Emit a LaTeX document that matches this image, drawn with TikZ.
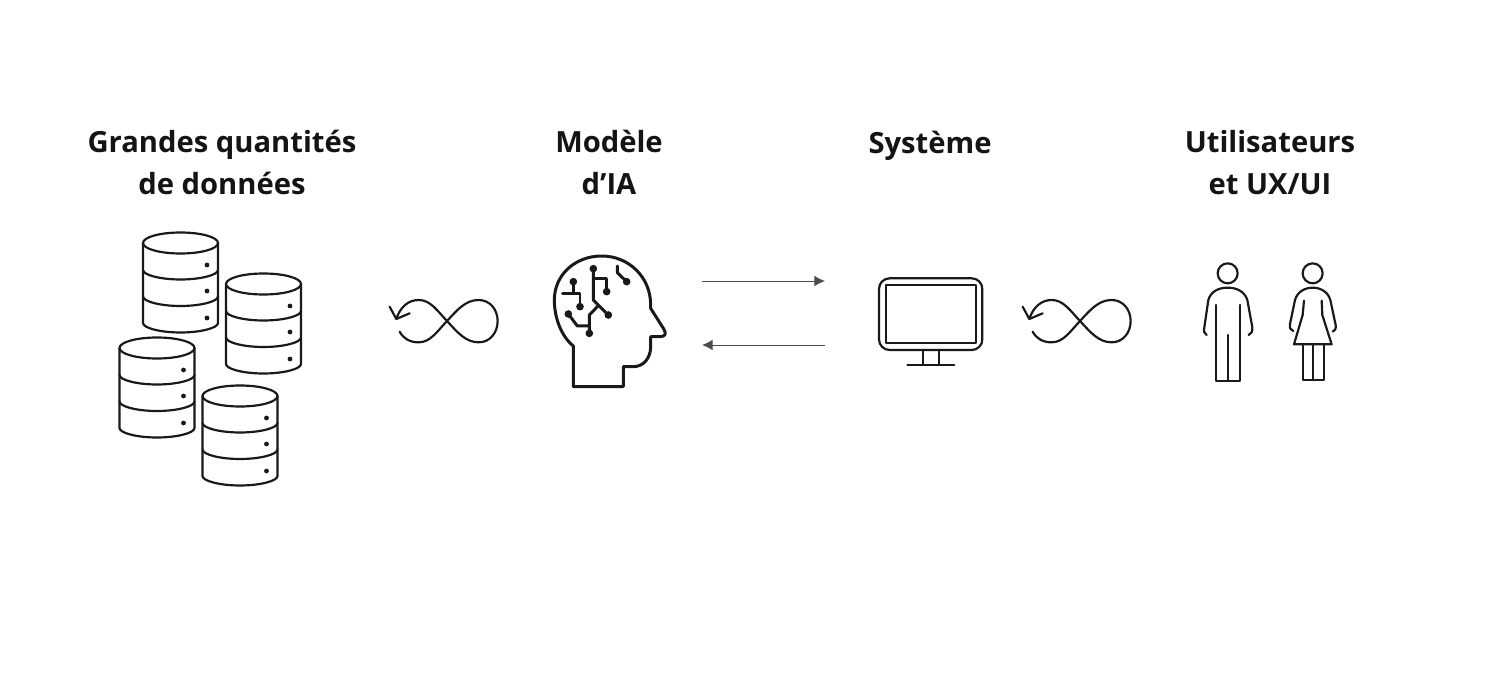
\documentclass[tikz,border=0pt]{standalone}
\usepackage{fontspec}
\setmainfont{Open Sans}
\usetikzlibrary{arrows.meta}
\tikzset{
  titre/.style={font=\fontsize{8.3}{12}\selectfont\bfseries, align=center, anchor=base, text=black!92},
  iconline/.style={black!90, line width=0.62pt, line join=round, line cap=round},
  headline/.style={iconline, line width=0.85pt},
  flow/.style={black!70, line width=0.28pt, -{Latex[length=3pt,width=3pt]}},
}
\newcommand{\dbcyl}[2]{%
  \begin{scope}[shift={(#1,#2)}]
    \draw[iconline] (0,0) ellipse (37.5 and 10.5);
    \draw[iconline] (-37.5,0) -- (-37.5,80) .. controls (-37.5,85) and (-20,89.5) .. (0,89.5) .. controls (20,89.5) and (37.5,85) .. (37.5,80) -- (37.5,0);
    \foreach \bandy in {27,53.5}
      \draw[iconline] (-37.5,\bandy) .. controls (-37.5,\bandy+5) and (-20,\bandy+9.5) .. (0,\bandy+9.5) .. controls (20,\bandy+9.5) and (37.5,\bandy+5) .. (37.5,\bandy);
    \foreach \doty in {22,48,75}
      \fill[black!90] (26.5,\doty) circle (2.4);
  \end{scope}}
\newcommand{\infloop}[1]{%
  \begin{scope}[shift={(#1,265)}, scale=0.3333]
    \draw[iconline] (518,200) .. controls (530,222) and (550,232) .. (575,232)
      .. controls (610,232) and (630,200) .. (660,168)
      .. controls (690,136) and (715,105) .. (755,105)
      .. controls (790,105) and (812,135) .. (812,168)
      .. controls (812,202) and (790,232) .. (755,232)
      .. controls (715,232) and (690,200) .. (660,168)
      .. controls (630,136) and (610,105) .. (575,105)
      .. controls (545,105) and (520,125) .. (508,162);
    \draw[iconline] (488,125) -- (508,162) -- (548,145);
  \end{scope}}
\begin{document}
\begin{tikzpicture}[x=0.01cm, y=-0.01cm]
  \useasboundingbox (0,0) rectangle (1503,688);
  % titres
  \node[titre] (donnees) at (222,195) {Grandes quantités\\de données};
  \node[titre] (modele) at (609,195) {Modèle\\d’IA};
  \node[titre] (systeme) at (930,153) {Système};
  \node[titre] (users) at (1270,195) {Utilisateurs\\et UX/UI};
  % cylindres
  \foreach \cx/\cy in {180.5/243, 263.5/284, 157/348, 240/396} {
    \dbcyl{\cx}{\cy}
  }
  % boucles
  \infloop{227}
  \infloop{860}
  % tete
  \begin{scope}[shift={(530,240)}, scale=0.3333]
    \draw[headline] (130,440) -- (130,318)
      .. controls (95,290) and (73,235) .. (73,180)
      .. controls (73,105) and (135,48) .. (215,48)
      .. controls (295,48) and (362,110) .. (362,195)
      -- (362,205) -- (402,268)
      .. controls (410,282) and (405,290) .. (390,290)
      -- (362,290) -- (362,320)
      .. controls (362,355) and (340,380) .. (310,380)
      -- (280,380) -- (280,440) -- cycle;
    \draw[headline] (130,125) -- (130,160) (98,160) -- (150,160) -- (150,200);
    \draw[headline] (190,86) -- (190,180) -- (235,225);
    \draw[headline] (190,115) -- (230,115) -- (230,155);
    \draw[headline] (205,197) -- (178,225) -- (178,280);
    \draw[headline] (178,258) -- (142,258) -- (115,222);
    \draw[headline] (262,78) -- (262,98) -- (290,125);
    \foreach \px/\py in {130/125, 150/200, 190/86, 235/225, 230/155, 178/280, 115/222, 290/125}
      \fill[black!90] (\px,\py) circle (11.5);
  \end{scope}
  % ecran
  \begin{scope}[shift={(860,265)}, scale=0.3333]
    \draw[iconline, rounded corners=3pt] (57,40) rectangle (367,255);
    \draw[iconline] (77,60) rectangle (348,235);
    \draw[iconline] (188,255) -- (188,300) (236,255) -- (236,300) (142,301) -- (283,301);
  \end{scope}
  % personnes
  \begin{scope}[shift={(1190,250)}, scale=0.3333]
    \draw[iconline] (113,70) circle (30);
    \draw[iconline] (50,255) .. controls (42,250) and (41,245) .. (43,232)
      -- (55,150) .. controls (62,125) and (85,113) .. (113,113)
      .. controls (141,113) and (164,125) .. (172,150)
      -- (187,232) .. controls (188,245) and (185,250) .. (176,255);
    \draw[iconline] (78,165) -- (78,392) -- (150,392) -- (150,165) (113,255) -- (113,392);
    \draw[iconline] (368,70) circle (30);
    \draw[iconline] (310,243) .. controls (302,240) and (298,235) .. (300,222)
      -- (315,150) .. controls (322,125) and (345,113) .. (368,113)
      .. controls (391,113) and (414,125) .. (421,150)
      -- (437,225) .. controls (438,238) and (435,242) .. (428,245);
    \draw[iconline] (342,152) -- (338,195) -- (312,283) -- (425,283) -- (397,195) -- (395,152);
    \draw[iconline] (338,283) -- (338,390) -- (403,390) -- (403,283) (368,283) -- (368,390);
  \end{scope}
  % fleches
  \coordinate (tete1) at (702,281);
  \coordinate (ecran1) at (825,281);
  \coordinate (tete2) at (702,345);
  \coordinate (ecran2) at (825,345);
  \draw[flow] (tete1) -- (ecran1);
  \draw[flow] (ecran2) -- (tete2);
\end{tikzpicture}
\end{document}
